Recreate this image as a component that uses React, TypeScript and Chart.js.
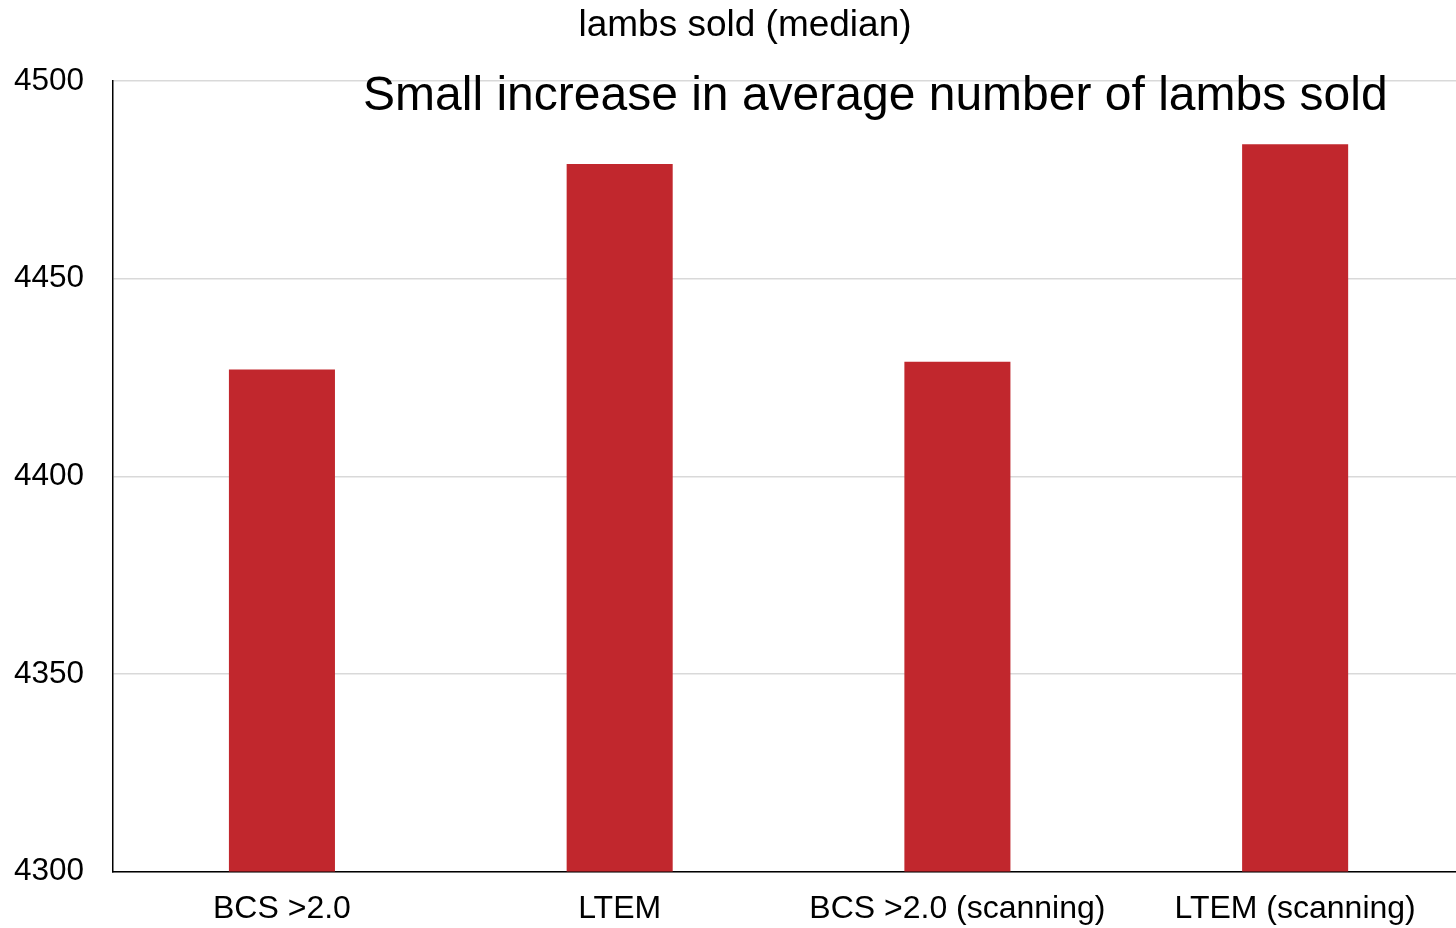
import React, { useEffect, useRef } from "react";
import { Chart, registerables } from "chart.js";

Chart.register(...registerables);

const categories = ["BCS >2.0", "LTEM", "BCS >2.0 (scanning)", "LTEM (scanning)"];
const lambsSold = [4427, 4479, 4429, 4484];
const chartTitle = "lambs sold (median)";
const annotationText = "Small increase in average number of lambs sold";
const yMin = 4300;
const yMax = 4500;
const yStep = 50;

const FONT = "'Liberation Sans', Arial, Helvetica, sans-serif";

const textPlugin = {
  id: "textPlugin",
  afterDraw(chart: any) {
    const { ctx, chartArea } = chart;
    ctx.save();
    ctx.fillStyle = "#000";
    ctx.font = `37px ${FONT}`;
    ctx.textAlign = "center";
    ctx.textBaseline = "middle";
    ctx.fillText(chartTitle, chart.width / 2 + 13, 26);
    ctx.font = `48px ${FONT}`;
    ctx.textAlign = "left";
    ctx.textBaseline = "alphabetic";
    ctx.fillText(annotationText, chartArea.left + 250, chartArea.top + 29);
    ctx.restore();
  },
};

export default function App() {
  const canvasRef = useRef<HTMLCanvasElement | null>(null);

  useEffect(() => {
    document.body.style.margin = "0";
    document.body.style.overflow = "hidden";
    const canvas = canvasRef.current;
    if (!canvas) return;
    const chart = new Chart(canvas, {
      type: "bar",
      data: {
        labels: categories,
        datasets: [
          {
            label: chartTitle,
            data: lambsSold,
            backgroundColor: "#C1272D",
            borderWidth: 0,
            categoryPercentage: 1,
            barPercentage: 0.314,
          },
        ],
      },
      options: {
        responsive: false,
        animation: false,
        maintainAspectRatio: false,
        layout: { padding: { top: 81, left: -15, right: 0, bottom: -18 } },
        plugins: {
          legend: { display: false },
          title: { display: false },
          tooltip: { enabled: false },
        },
        scales: {
          x: {
            grid: { display: false, drawTicks: false },
            border: { display: true, color: "#000", width: 1.5 },
            ticks: {
              color: "#000",
              font: { family: FONT, size: 32 },
              padding: 18,
              maxRotation: 0,
              autoSkip: false,
            },
          },
          y: {
            min: yMin,
            max: yMax,
            grid: { color: "#d9d9d9", lineWidth: 1.5, drawTicks: false },
            border: { display: true, color: "#000", width: 1.5 },
            ticks: {
              stepSize: yStep,
              color: "#000",
              font: { family: FONT, size: 31.5 },
              padding: 29,
              callback: (v: any) => String(v),
            },
          },
        },
      },
      plugins: [textPlugin],
    });
    return () => chart.destroy();
  }, []);

  return (
    <div style={{ width: 1456, height: 928, background: "#fff", overflow: "hidden" }}>
      <canvas ref={canvasRef} width={1464} height={928} style={{ display: "block" }} />
    </div>
  );
}
